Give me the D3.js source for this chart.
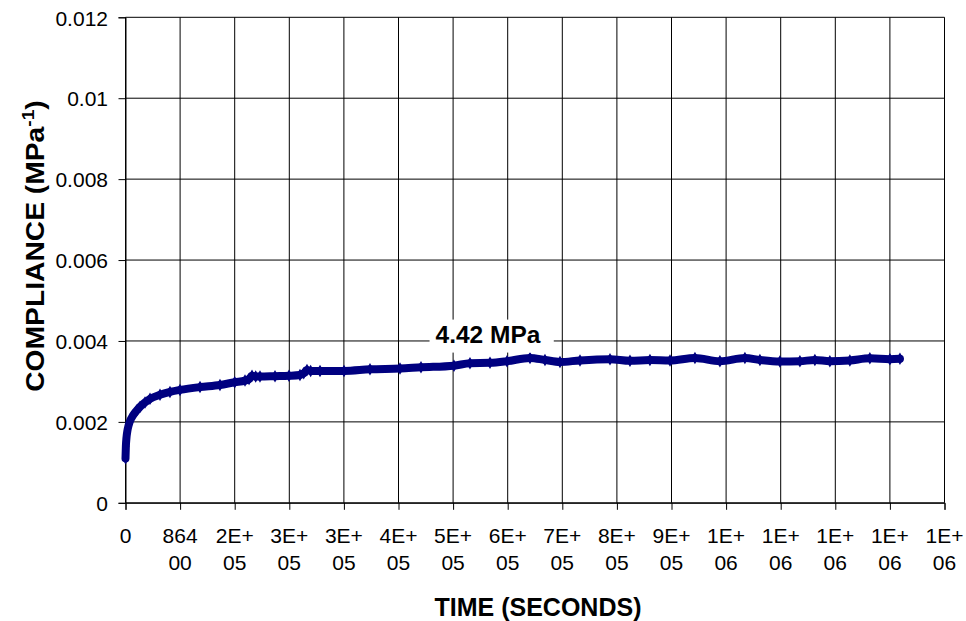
<!DOCTYPE html>
<html>
<head>
<meta charset="utf-8">
<script src="https://cdn.jsdelivr.net/npm/d3@7"></script>
<style>
  body { margin: 0; background: #fff; }
  svg text { font-family: "Liberation Sans", Arial, Helvetica, sans-serif; fill: #000; }
</style>
</head>
<body>
<svg id="chart" width="966" height="621"></svg>
<script>
// Creep compliance test: elapsed time (s) and measured compliance (1/MPa)
const times = [
  0, 600, 1500, 3000, 5000, 7100, 11900, 17700, 22900, 30900, 38800, 54600,
  70400, 86200, 117900, 149500, 172800, 189100, 195500, 200200, 206000, 212800,
  236600, 258700, 276100, 282000, 287200, 293000, 307800, 345800, 386900, 434400,
  467600, 519800, 545100, 576800, 603700, 640100, 663800, 687500, 719200, 766700,
  798300, 829900, 861600, 901100, 940600, 980200, 1003900, 1035500, 1067200,
  1090900, 1114600, 1146300, 1177900, 1209600, 1225500
];
const compliance = [
  0.00110, 0.00140, 0.00160, 0.00178, 0.00192, 0.00202, 0.00216, 0.00228, 0.00237,
  0.00248, 0.00257, 0.00267, 0.00274, 0.00279, 0.00286, 0.00291, 0.00298, 0.00302,
  0.00306, 0.00314, 0.00312, 0.00312, 0.00313, 0.00314, 0.00316, 0.00320, 0.00328,
  0.00326, 0.00326, 0.00326, 0.00330, 0.00332, 0.00335, 0.00339, 0.00345, 0.00346,
  0.00350, 0.00358, 0.00353, 0.00348, 0.00352, 0.00355, 0.00351, 0.00353, 0.00352,
  0.00358, 0.00350, 0.00358, 0.00353, 0.00349, 0.00350, 0.00353, 0.00350, 0.00352,
  0.00357, 0.00355, 0.00356
];

// Axis ticks: one per day on x, 0.002 steps on y
const xTickValues = d3.range(0, 16).map(d => d * 86400);
const xTickLabels = ["0", "86400", "2E+05", "3E+05", "3E+05", "4E+05", "5E+05", "6E+05",
                     "7E+05", "8E+05", "9E+05", "1E+06", "1E+06", "1E+06", "1E+06", "1E+06"];
const yTickValues = [0, 0.002, 0.004, 0.006, 0.008, 0.010, 0.012];
const yTickLabels = ["0", "0.002", "0.004", "0.006", "0.008", "0.01", "0.012"];

// Stress level label placed near the curve
const stressLabel = "4.42 MPa";
const stressLabelAt = [573600, 0.00417];

const svg = d3.select("#chart");
const plot = { left: 125.5, top: 17.3, right: 944.5, bottom: 502.8 };

const x = d3.scaleLinear().domain([0, 15 * 86400]).range([plot.left, plot.right]);
const y = d3.scaleLinear().domain([0, 0.012]).range([plot.bottom, plot.top]);

// Grid
const grid = svg.append("g").attr("stroke", "#000").attr("stroke-width", 1);
grid.selectAll("line.h").data(yTickValues).join("line")
  .attr("x1", plot.left).attr("x2", plot.right)
  .attr("y1", d => y(d)).attr("y2", d => y(d));
grid.selectAll("line.v").data(xTickValues).join("line")
  .attr("x1", d => x(d)).attr("x2", d => x(d))
  .attr("y1", plot.top).attr("y2", plot.bottom);

// Axes
const xAxis = d3.axisBottom(x).tickValues(xTickValues).tickSize(7).tickFormat("");
const gx = svg.append("g").attr("transform", `translate(0,${plot.bottom})`).call(xAxis);
const yAxis = d3.axisLeft(y).tickValues(yTickValues).tickSize(7).tickFormat("");
const gy = svg.append("g").attr("transform", `translate(${plot.left},0)`).call(yAxis);
[gx, gy].forEach(g => {
  g.select(".domain").attr("stroke", "#000").attr("stroke-width", 1);
  g.selectAll(".tick line").attr("stroke", "#000");
});

// x tick labels wrap after three characters
svg.append("g").selectAll("text").data(xTickValues).join("text")
  .attr("text-anchor", "middle")
  .attr("font-size", 21)
  .each(function (d, i) {
    const lbl = xTickLabels[i];
    const t = d3.select(this);
    const parts = lbl.length > 3 ? [lbl.slice(0, 3), lbl.slice(3)] : [lbl];
    parts.forEach((p, k) => {
      t.append("tspan").attr("x", x(d)).attr("y", plot.bottom + 40.5 + k * 26.7).text(p);
    });
  });

// y tick labels
svg.append("g").selectAll("text").data(yTickValues).join("text")
  .attr("text-anchor", "end")
  .attr("font-size", 21)
  .attr("x", plot.left - 17.5)
  .attr("y", d => y(d) + 8.2)
  .text((d, i) => yTickLabels[i]);

// Compliance curve
const pts = times.map((t, i) => [t, compliance[i]]);
svg.append("path")
  .datum(pts)
  .attr("fill", "none")
  .attr("stroke", "#000080")
  .attr("stroke-width", 8)
  .attr("stroke-linejoin", "round")
  .attr("stroke-linecap", "round")
  .attr("d", d3.line().x(d => x(d[0])).y(d => y(d[1])).curve(d3.curveMonotoneX));
svg.append("g").selectAll("path").data(pts).join("path")
  .attr("fill", "#000080")
  .attr("transform", d => `translate(${x(d[0])},${y(d[1])})`)
  .attr("d", d3.symbol(d3.symbolDiamond, 45));

// Stress label with white backing
const lab = svg.append("g");
const labText = lab.append("text")
  .attr("x", x(stressLabelAt[0])).attr("y", y(stressLabelAt[1]) + 8.5)
  .attr("text-anchor", "middle")
  .attr("font-size", 24.5).attr("font-weight", "bold")
  .text(stressLabel);
const bb = labText.node().getBBox();
lab.insert("rect", "text")
  .attr("x", bb.x - 6).attr("y", bb.y - 1)
  .attr("width", bb.width + 19).attr("height", bb.height + 6)
  .attr("fill", "#fff");

// Axis titles
svg.append("text")
  .attr("x", 538).attr("y", 616)
  .attr("text-anchor", "middle")
  .attr("font-size", 25).attr("font-weight", "bold")
  .text("TIME (SECONDS)");

const yt = svg.append("text")
  .attr("transform", "translate(44,246) rotate(-90) scale(1.13,1)")
  .attr("text-anchor", "middle")
  .attr("font-size", 25).attr("font-weight", "bold");
yt.append("tspan").text("COMPLIANCE (MPa");
yt.append("tspan").attr("font-size", 17).attr("dy", -10).text("-1");
yt.append("tspan").attr("dy", 10).text(")");
</script>
</body>
</html>
